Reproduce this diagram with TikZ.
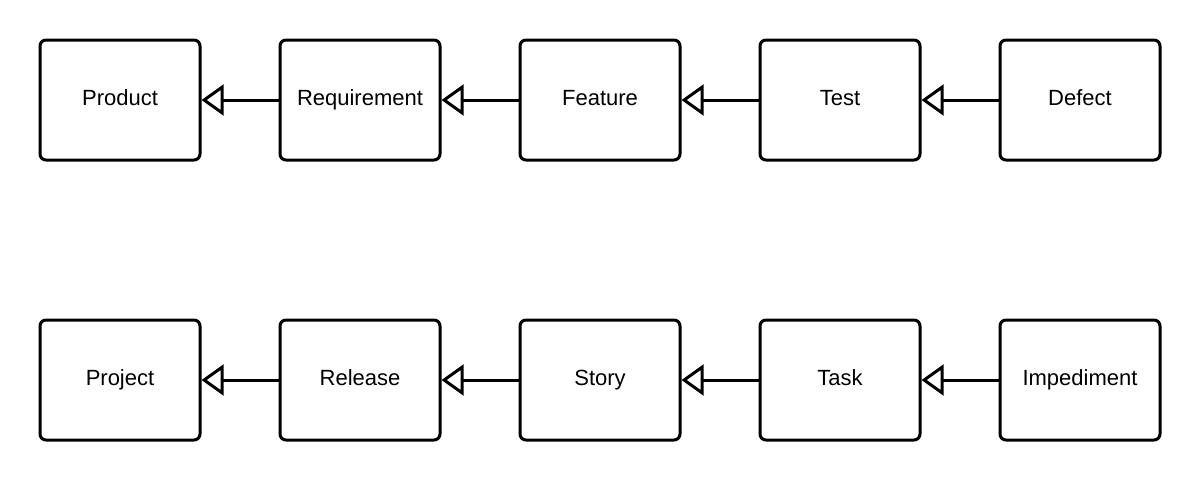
\documentclass[tikz,border=0pt]{standalone}
\usepackage{fontspec}
\setmainfont{Liberation Sans}
\usetikzlibrary{arrows.meta}
\begin{document}
\begin{tikzpicture}[x=0.75pt,y=-0.75pt,
  box/.style={draw, line width=2.25pt, rounded corners=4.5pt, minimum width=120pt, minimum height=90pt, inner sep=0pt, text height=12pt, text depth=3.75pt, font=\fontsize{16.5pt}{19pt}\selectfont},
  gen/.style={draw, line width=2.25pt, -{Triangle[open, length=16.5pt, width=23pt, line width=2.25pt]}}]
\useasboundingbox (0,0) rectangle (1200,480);
\node[box] (product) at (120,100) {Product};
\node[box] (requirement) at (360,100) {Requirement};
\node[box] (feature) at (600,100) {Feature};
\node[box] (test) at (840,100) {Test};
\node[box] (defect) at (1080,100) {Defect};
\node[box] (project) at (120,380) {Project};
\node[box] (release) at (360,380) {Release};
\node[box] (story) at (600,380) {Story};
\node[box] (task) at (840,380) {Task};
\node[box] (impediment) at (1080,380) {Impediment};
\draw[gen] (requirement) -- (product);
\draw[gen] (feature) -- (requirement);
\draw[gen] (test) -- (feature);
\draw[gen] (defect) -- (test);
\draw[gen] (release) -- (project);
\draw[gen] (story) -- (release);
\draw[gen] (task) -- (story);
\draw[gen] (impediment) -- (task);
\end{tikzpicture}
\end{document}
